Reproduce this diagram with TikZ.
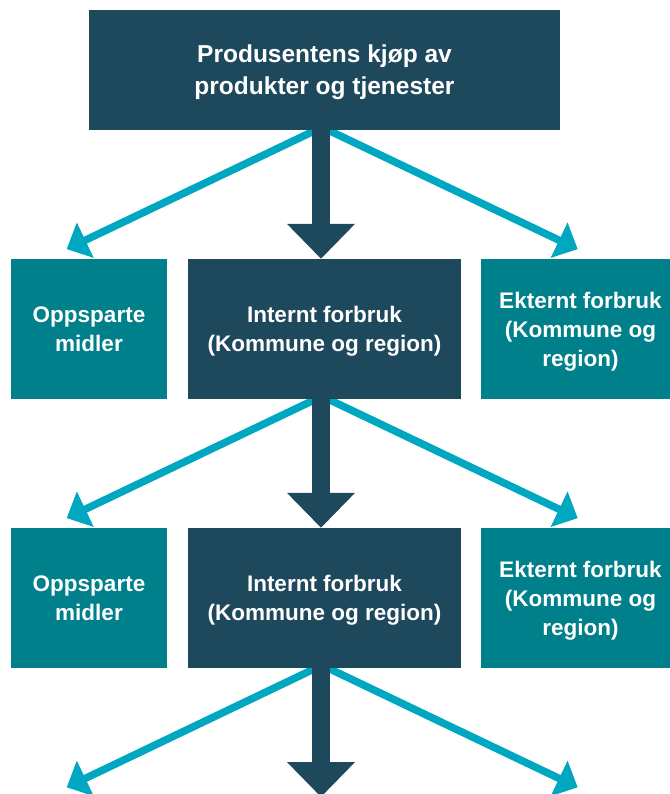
\documentclass[tikz,border=0pt]{standalone}
\usepackage{fontspec}
\setmainfont{Liberation Sans}
\usetikzlibrary{arrows.meta}
\definecolor{navy}{RGB}{30,73,93}
\definecolor{tealbox}{RGB}{0,128,138}
\definecolor{cyanarrow}{RGB}{0,167,192}
\pgfdeclarelayer{bg}
\pgfsetlayers{bg,main}
\begin{document}
\begin{tikzpicture}[x=1bp,y=-1bp,
  box/.style={rectangle, inner sep=0pt, text=white, align=center, text depth=0pt,
    font=\bfseries\fontsize{22.5bp}{29bp}\selectfont},
  mainbox/.style={box, fill=navy},
  sidebox/.style={box, fill=tealbox},
  rowbox/.style={minimum height=140bp},
  flow/.style={navy, line width=18.6bp, -{Triangle[width=66bp,length=35bp]}},
  branch/.style={cyanarrow, line width=7.5bp, -{Triangle[width=38bp,length=20.6bp]}},
]
\clip (0,0) rectangle (670,794);
\useasboundingbox (0,0) rectangle (670,794);

% top box
\node[mainbox, minimum width=471bp, minimum height=120bp,
  font=\bfseries\fontsize{24.5bp}{32bp}\selectfont] (top) at (324.5,70)
  {Produsentens kjøp av\\produkter og tjenester};

% first row
\node[sidebox, rowbox, minimum width=156bp] (l1) at (89,329) {Oppsparte\\midler};
\node[mainbox, rowbox, minimum width=273bp] (m1) at (324.5,329) {Internt forbruk\\(Kommune og region)};
\node[sidebox, rowbox, minimum width=199bp] (r1) at (580.5,329) {Ekternt forbruk\\(Kommune og\\region)};

% second row
\node[sidebox, rowbox, minimum width=156bp] (l2) at (89,598) {Oppsparte\\midler};
\node[mainbox, rowbox, minimum width=273bp] (m2) at (324.5,598) {Internt forbruk\\(Kommune og region)};
\node[sidebox, rowbox, minimum width=199bp] (r2) at (580.5,598) {Ekternt forbruk\\(Kommune og\\region)};

% targets of the row that continues below the page
\coordinate (l3) at (89,797);
\coordinate (m3) at (324.5,797);
\coordinate (r3) at (580.5,797);

\begin{pgfonlayer}{bg}
  % top -> row 1
  \draw[branch] ([xshift=-2.5bp,yshift=3bp]top.south) -- ([xshift=-22.3bp,yshift=9.7bp]l1.north);
  \draw[branch] ([xshift=-2.5bp,yshift=3bp]top.south) -- ([xshift=-2.8bp,yshift=9.7bp]r1.north);
  \draw[flow] ([xshift=-3.5bp]top.south) -- ([xshift=-3.5bp]m1.north);
  % row 1 -> row 2
  \draw[branch] ([xshift=-2.5bp,yshift=3bp]m1.south) -- ([xshift=-22.3bp,yshift=9.7bp]l2.north);
  \draw[branch] ([xshift=-2.5bp,yshift=3bp]m1.south) -- ([xshift=-2.8bp,yshift=9.7bp]r2.north);
  \draw[flow] ([xshift=-3.5bp]m1.south) -- ([xshift=-3.5bp]m2.north);
  % row 2 -> next row
  \draw[branch] ([xshift=-2.5bp,yshift=3bp]m2.south) -- ([xshift=-22.3bp,yshift=9.7bp]l3);
  \draw[branch] ([xshift=-2.5bp,yshift=3bp]m2.south) -- ([xshift=-2.8bp,yshift=9.7bp]r3);
  \draw[flow] ([xshift=-3.5bp]m2.south) -- ([xshift=-3.5bp]m3);
\end{pgfonlayer}
\end{tikzpicture}
\end{document}
